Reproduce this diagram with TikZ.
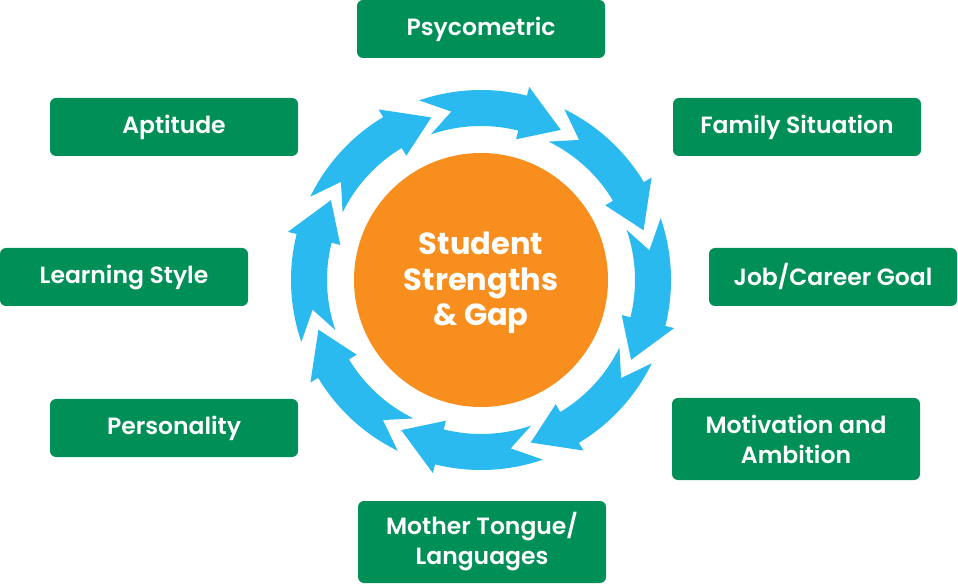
\documentclass[tikz,border=0pt]{standalone}
\usepackage{fontspec}
\setmainfont{Poppins SemiBold}
\newfontfamily\corefont{Poppins Bold}
\definecolor{boxgreen}{RGB}{0,143,86}
\definecolor{ringblue}{RGB}{43,186,240}
\definecolor{coreorange}{RGB}{247,142,30}
\tikzset{
  topic/.style={fill=boxgreen, text=white, rounded corners=6pt, minimum width=248pt,
    minimum height=58pt, inner sep=0pt, align=center, font=\fontsize{23.5}{30}\selectfont},
  tallbox/.style={topic, minimum height=82pt},
  ringarrow/.style={fill=ringblue}
}
\begin{document}
\begin{tikzpicture}
\useasboundingbox (0pt,0pt) rectangle (958pt,584pt);
\coordinate (C) at (481pt,304pt);
\begin{scope}[shift={(C)}]
\foreach \p in {62,17,-28,-73,-118,-163,-208,-253}{
  \fill[ringarrow] (\p+47:190pt) -- (\p+38:171pt) -- (\p+47:154pt)
    arc[start angle=\p+47, end angle=\p+14, radius=154pt]
    -- (\p+14:145pt) -- (\p:170pt) -- (\p+14:199pt) -- (\p+14:190pt)
    arc[start angle=\p+14, end angle=\p+47, radius=190pt] -- cycle;
}
\end{scope}
\node[circle, fill=coreorange, minimum size=254pt, inner sep=0pt] (core) at (C) {};
\node[text=white, align=center, inner sep=0pt, yshift=-3pt,
  font=\corefont\fontsize{30.5}{35.5}\selectfont] (coretext) at (core.center) {Student\\Strengths\\\& Gap};
\node[topic] (psy) at (481pt,555pt) {Psycometric};
\node[topic] (apt) at (174pt,457pt) {Aptitude};
\node[topic] (fam) at (797pt,457pt) {Family Situation};
\node[topic] (learn) at (124pt,307pt) {Learning Style};
\node[topic] (job) at (833pt,307pt) {Job/Career Goal};
\node[topic] (pers) at (174pt,156pt) {Personality};
\node[tallbox] (mot) at (796pt,145pt) {Motivation and\\Ambition};
\node[tallbox] (lang) at (482pt,42pt) {Mother Tongue/\\Languages};
\end{tikzpicture}
\end{document}
